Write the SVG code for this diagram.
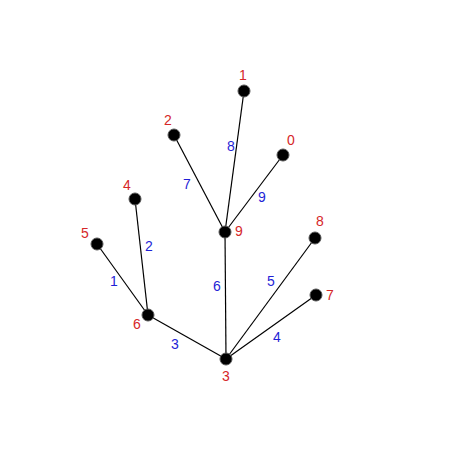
<svg xmlns="http://www.w3.org/2000/svg" width="450" height="450" viewBox="0 0 450 450">
<style>
.n{fill:#000;stroke:#555;stroke-width:1}
.nl{fill:#d62728;font-family:"Liberation Sans",Arial,sans-serif;font-size:14px;text-anchor:middle;dominant-baseline:central}
.el{fill:#1f1fd6;font-family:"Liberation Sans",Arial,sans-serif;font-size:14px;text-anchor:middle;dominant-baseline:central}
.e{stroke:#000;stroke-width:1.2;fill:none}
</style>
<rect width="450" height="450" fill="#fff"/>
<g id="edges">
<line class="e" x1="225" y1="232" x2="244" y2="91"/>
<line class="e" x1="225" y1="232" x2="174" y2="135"/>
<line class="e" x1="225" y1="232" x2="283" y2="155"/>
<line class="e" x1="148" y1="315" x2="135" y2="199"/>
<line class="e" x1="148" y1="315" x2="97" y2="244"/>
<line class="e" x1="226" y1="359" x2="225" y2="232"/>
<line class="e" x1="226" y1="359" x2="148" y2="315"/>
<line class="e" x1="226" y1="359" x2="315" y2="238"/>
<line class="e" x1="226" y1="359" x2="316" y2="295"/>
<text class="el" x="231" y="146">8</text>
<text class="el" x="187" y="184">7</text>
<text class="el" x="262" y="197">9</text>
<text class="el" x="149" y="246">2</text>
<text class="el" x="114" y="281">1</text>
<text class="el" x="217" y="286">6</text>
<text class="el" x="271" y="281">5</text>
<text class="el" x="175" y="344">3</text>
<text class="el" x="277" y="337">4</text>
</g>
<g id="n0"><circle class="n" cx="283" cy="155" r="6"/><text class="nl" x="291" y="140">0</text></g>
<g id="n1"><circle class="n" cx="244" cy="91" r="6"/><text class="nl" x="243" y="75">1</text></g>
<g id="n2"><circle class="n" cx="174" cy="135" r="6"/><text class="nl" x="168" y="120">2</text></g>
<g id="n3"><circle class="n" cx="226" cy="359" r="6"/><text class="nl" x="226" y="376">3</text></g>
<g id="n4"><circle class="n" cx="135" cy="199" r="6"/><text class="nl" x="127" y="185">4</text></g>
<g id="n5"><circle class="n" cx="97" cy="244" r="6"/><text class="nl" x="85" y="233">5</text></g>
<g id="n6"><circle class="n" cx="148" cy="315" r="6"/><text class="nl" x="137" y="324">6</text></g>
<g id="n7"><circle class="n" cx="316" cy="295" r="6"/><text class="nl" x="330" y="295">7</text></g>
<g id="n8"><circle class="n" cx="315" cy="238" r="6"/><text class="nl" x="320" y="221">8</text></g>
<g id="n9"><circle class="n" cx="225" cy="232" r="6"/><text class="nl" x="239" y="231">9</text></g>
</svg>
